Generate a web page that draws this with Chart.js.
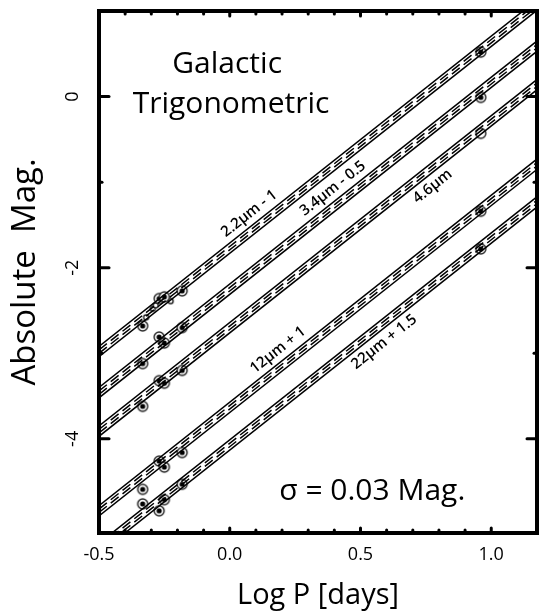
<!DOCTYPE html>
<html>
<head>
<meta charset="utf-8">
<script src="https://cdn.jsdelivr.net/npm/chart.js@4.4.1/dist/chart.umd.min.js"></script>
<style>
  html, body { margin: 0; padding: 0; background: #fff; overflow: hidden; }
  #wrap { position: absolute; left: 0; top: 0; width: 548px; height: 615px; }
</style>
</head>
<body>
<div id="wrap"><canvas id="plot" width="548" height="615"></canvas></div>
<script>
// Periods of the parallax stars: XZ Cyg, UV Oct, RR Lyr, SU Dra, kappa Pav
const logPeriods = [-0.333, -0.27, -0.25, -0.182, 0.96];

// Absolute magnitudes per band, shifted as written on each band label
const magK  = [-2.68, -2.36, -2.34, -2.27, 0.52];
const magW1 = [-3.12, -2.81, -2.88, -2.70, -0.01];
const magW2 = [-3.62, -3.32, -3.35, -3.20, null];
const magW3 = [-4.59, -4.26, -4.33, -4.16, -1.34];
const magW4 = [-4.76, -4.84, -4.71, -4.53, -1.78];

// Open symbols (no filled centre)
const openLogP = [0.96, -0.32, -0.294, -0.283, -0.226];
const openMag  = [-0.43, -2.58, -2.48, -2.44, -2.39];

// Fitted relations, evaluated at both ends of the period range
const fitLogP = [-0.5, 1.2];
const fitK  = [-2.98, 1.13];
const fitW1 = [-3.46, 0.65];
const fitW2 = [-3.91, 0.20];
const fitW3 = [-4.84, -0.73];
const fitW4 = [-5.28, -1.17];

// Envelope half-widths around each fit (mag)
const outerOffset = 0.06;
const innerOffset = 0.02;

const bandLabels = ['2.2µm - 1', '3.4µm - 0.5', '4.6µm', '12µm + 1', '22µm + 1.5'];
const xTickValues = [-0.5, 0, 0.5, 1.0];
const xTickLabels = ['-0.5', '0.0', '0.5', '1.0'];
const yTickValues = [0, -2, -4];
const yTickLabels = ['0', '-2', '-4'];

const FONT = '"Open Sans", "Noto Sans", sans-serif';

// side: -1 writes the name above the band, +1 below it
const bands = [
  { mags: magK,  fit: fitK,  labelAt: 0.11, side: -1 },
  { mags: magW1, fit: fitW1, labelAt: 0.43, side: -1 },
  { mags: magW2, fit: fitW2, labelAt: 0.74, side: 1 },
  { mags: magW3, fit: fitW3, labelAt: 0.22, side: -1 },
  { mags: magW4, fit: fitW4, labelAt: 0.555, side: 1 }
];

// bullseye symbol used for the measured stars
function ringMarker(r, dot) {
  const c = document.createElement('canvas');
  const s = Math.ceil(r * 2 + 4);
  c.width = c.height = s;
  const g = c.getContext('2d');
  g.beginPath();
  g.arc(s / 2, s / 2, r, 0, Math.PI * 2);
  g.fillStyle = '#fff';
  g.fill();
  g.lineWidth = 1.4;
  g.strokeStyle = '#222';
  g.stroke();
  if (dot) {
    g.beginPath();
    g.arc(s / 2, s / 2, dot, 0, Math.PI * 2);
    g.fillStyle = '#000';
    g.fill();
  }
  return c;
}
const filledMark = ringMarker(5, 2.6);
const openMark = ringMarker(5, 0);
const smallOpenMark = ringMarker(2.5, 0);

const datasets = [];
bands.forEach(b => {
  [[outerOffset, []], [innerOffset, [10, 5]], [-innerOffset, [10, 5]], [-outerOffset, []]].forEach(([off, dash]) => {
    datasets.push({
      data: fitLogP.map((p, i) => ({ x: p, y: b.fit[i] + off })),
      showLine: true,
      borderColor: '#000',
      borderWidth: 1.5,
      borderDash: dash,
      pointRadius: 0
    });
  });
});
bands.forEach(b => {
  datasets.push({
    data: logPeriods.map((p, i) => ({ x: p, y: b.mags[i] })).filter(d => d.y !== null),
    showLine: false,
    pointStyle: filledMark,
    pointRadius: 6
  });
});
datasets.push({
  data: openLogP.map((p, i) => ({ x: p, y: openMag[i] })),
  showLine: false,
  pointStyle: openLogP.map((p, i) => i === 0 ? openMark : smallOpenMark),
  pointRadius: 6
});

const frame = {
  id: 'frame',
  afterDatasetsDraw(chart) {
    const { ctx, chartArea: a, scales: { x, y } } = chart;
    const seg = (x1, y1, x2, y2) => { ctx.beginPath(); ctx.moveTo(x1, y1); ctx.lineTo(x2, y2); ctx.stroke(); };
    ctx.save();
    ctx.strokeStyle = '#000';
    ctx.lineCap = 'round';
    ctx.lineWidth = 3;

    // inward ticks, every 0.1 along the period axis
    x.ticks.forEach(t => {
      const v = t.value;
      if (Math.abs(v * 10 - Math.round(v * 10)) > 1e-6) return;
      const px = x.getPixelForValue(v);
      if (px <= a.left + 2) return;
      const len = Math.abs(v * 2 - Math.round(v * 2)) < 1e-6 ? 5 : 3;
      seg(px, a.top, px, a.top + len);
      seg(px, a.bottom, px, a.bottom - len);
    });
    // whole magnitudes, longer marks on the even ones
    y.ticks.forEach(t => {
      const v = t.value;
      if (Math.abs(v - Math.round(v)) > 1e-6 || v >= y.max) return;
      const py = y.getPixelForValue(v);
      const len = Math.round(v) % 2 === 0 ? 10 : 3;
      seg(a.left, py, a.left + len, py);
      seg(a.right, py, a.right - len, py);
    });

    ctx.lineCap = 'square';
    ctx.lineWidth = 4;
    ctx.strokeRect(a.left, a.top, a.right - a.left, a.bottom - a.top);

    // rotated magnitude labels
    ctx.fillStyle = '#000';
    ctx.font = '18px ' + FONT;
    ctx.textAlign = 'center';
    ctx.textBaseline = 'middle';
    yTickValues.forEach((v, i) => {
      ctx.save();
      ctx.translate(73, y.getPixelForValue(v));
      ctx.rotate(-Math.PI / 2);
      ctx.fillText(yTickLabels[i], 0, 0);
      ctx.restore();
    });

    // band names written along each relation
    ctx.font = '600 15px ' + FONT;
    bands.forEach((b, i) => {
      const x0 = x.getPixelForValue(fitLogP[0]), y0 = y.getPixelForValue(b.fit[0]);
      const x1 = x.getPixelForValue(fitLogP[1]), y1 = y.getPixelForValue(b.fit[1]);
      const ang = Math.atan2(y1 - y0, x1 - x0);
      const f = (b.labelAt - fitLogP[0]) / (fitLogP[1] - fitLogP[0]);
      const m = b.fit[0] + f * (b.fit[1] - b.fit[0]);
      ctx.save();
      ctx.translate(x.getPixelForValue(b.labelAt), y.getPixelForValue(m));
      ctx.rotate(ang);
      ctx.fillText(bandLabels[i], 0, b.side * 15);
      ctx.restore();
    });

    ctx.font = '30px ' + FONT;
    ctx.fillText('Galactic', x.getPixelForValue(-0.01), y.getPixelForValue(0.38));
    ctx.fillText('Trigonometric', x.getPixelForValue(0.005), y.getPixelForValue(-0.09));
    ctx.fillText('σ = 0.03 Mag.', x.getPixelForValue(0.545), y.getPixelForValue(-4.62));
    ctx.restore();
  }
};

new Chart(document.getElementById('plot'), {
  type: 'scatter',
  data: { datasets },
  plugins: [frame],
  options: {
    responsive: false,
    animation: false,
    events: [],
    layout: { padding: { top: 11, right: 2, left: 0, bottom: 0 } },
    plugins: { legend: { display: false }, tooltip: { enabled: false } },
    scales: {
      x: {
        type: 'linear',
        min: -0.5,
        max: 1.175,
        grid: { display: false, drawTicks: false },
        border: { display: false },
        afterFit: s => { s.height = 82; },
        ticks: {
          stepSize: 0.1,
          autoSkip: false,
          maxRotation: 0,
          padding: 11,
          color: '#000',
          font: { family: FONT, size: 18 },
          callback: v => {
            const i = xTickValues.findIndex(t => Math.abs(t - v) < 1e-6);
            return i < 0 ? '' : xTickLabels[i];
          }
        },
        title: {
          display: true,
          text: 'Log P [days]',
          color: '#000',
          font: { family: FONT, size: 29 },
          padding: { top: 0, bottom: 2 }
        }
      },
      y: {
        type: 'linear',
        min: -5.1,
        max: 1.0,
        grid: { display: false, drawTicks: false },
        border: { display: false },
        afterFit: s => { s.width = 99; },
        ticks: { stepSize: 1, display: false },
        title: {
          display: true,
          text: 'Absolute  Mag.',
          color: '#000',
          font: { family: FONT, size: 33 },
          padding: { top: 6, bottom: 0 }
        }
      }
    }
  }
});
</script>
</body>
</html>
